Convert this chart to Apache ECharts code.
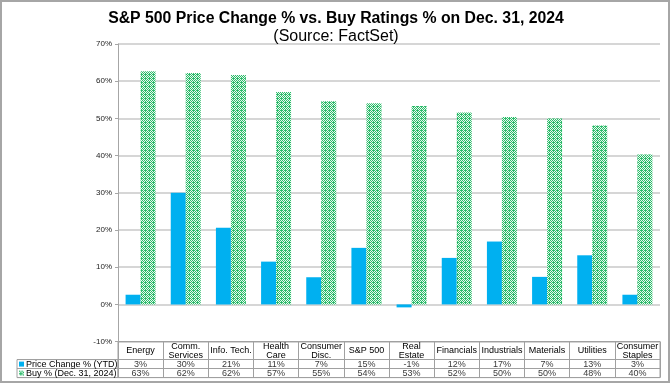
<!DOCTYPE html>
<html><head><meta charset="utf-8">
<script src="https://cdn.jsdelivr.net/npm/echarts@6/dist/echarts.min.js"></script>
<style>html,body{margin:0;padding:0;background:#fff}#c{width:672px;height:384px}</style>
</head><body><div id="c"></div>
<script>
// ---- data ----
const categories = ['Energy','Comm.\nServices','Info. Tech.','Health\nCare','Consumer\nDisc.','S&P 500','Real\nEstate','Financials','Industrials','Materials','Utilities','Consumer\nStaples'];
const priceChange = [2.6, 30.0, 20.6, 11.5, 7.3, 15.2, -0.8, 12.5, 16.9, 7.4, 13.2, 2.6];
const buyPct = [62.7, 62.2, 61.7, 57.1, 54.6, 54.1, 53.3, 51.6, 50.4, 50.0, 48.1, 40.3];
const priceLabels = ['3%','30%','21%','11%','7%','15%','-1%','12%','17%','7%','13%','3%'];
const buyLabels = ['63%','62%','62%','57%','55%','54%','53%','52%','50%','50%','48%','40%'];
const seriesNames = ['Price Change % (YTD)', 'Buy % (Dec. 31, 2024)'];
const tableRows = ['h1','h2','price','buy'];
const titleText = 'S&P 500 Price Change % vs. Buy Ratings % on Dec. 31, 2024';
const subText = '(Source: FactSet)';

// ---- hatch pattern ----
function makeHatch(){
  const c = document.createElement('canvas');
  c.width = 4; c.height = 4;
  const ctx = c.getContext('2d');
  ctx.fillStyle = '#e8f8ee'; ctx.fillRect(0,0,4,4);
  ctx.fillStyle = '#2bbb6a';
  for (let x=0;x<4;x++) for (let y=0;y<4;y++) {
    if ((x + y) % 2 === 0 || (x === 1 && y === 2)) ctx.fillRect(x, y, 1, 1);
  }
  return c;
}
const hatch = makeHatch();
const BLUE = '#00b0f0';
const FONT = 'Liberation Sans';
const GRID = '#c8c8c8';
const TBL = '#a0a0a0';

const chart = echarts.init(document.getElementById('c'), null, {renderer:'canvas'});

const textPoints = [];
for (let i=0;i<categories.length;i++){
  textPoints.push({value:[i, 2], label:{formatter: priceLabels[i]}});
  textPoints.push({value:[i, 3], label:{formatter: buyLabels[i]}});
}

chart.setOption({
  animation: false,
  backgroundColor: '#fff',
  textStyle: {fontFamily: FONT},
  title: {
    text: titleText, subtext: subText, left: 'center', top: 6, itemGap: 2,
    textStyle: {fontSize: 15.8, fontWeight: 'bold', color: '#000', fontFamily: FONT},
    subtextStyle: {fontSize: 16, color: '#000', fontFamily: FONT}
  },
  graphic: [{
    type: 'rect', silent: true, z: 100,
    shape: {x: 1, y: 1, width: 668, height: 381},
    style: {fill: 'none', stroke: '#a6a6a6', lineWidth: 2}
  }],
  grid: [
    {left: 118, right: 12, top: 44, height: 297.6},
    {left: 118, right: 12, top: 341.6, height: 36, show: true, borderColor: TBL, borderWidth: 1, backgroundColor: 'transparent'},
    {left: 17, width: 101, top: 359.6, height: 18, show: true, borderColor: TBL, borderWidth: 1, backgroundColor: 'transparent'}
  ],
  xAxis: [
    {type: 'category', gridIndex: 0, data: categories,
     axisLine: {show: false, onZero: false}, axisTick: {show: false},
     axisLabel: {interval: 0, fontSize: 9, lineHeight: 9, color: '#000', verticalAlign: 'middle', margin: 9, fontFamily: FONT}},
    {type: 'category', gridIndex: 1, data: categories,
     axisLine: {show: false}, axisTick: {show: false}, axisLabel: {show: false},
     splitLine: {show: true, interval: 0, lineStyle: {color: TBL, width: 1}}},
    {type: 'value', gridIndex: 2, show: false, min: 0, max: 1}
  ],
  yAxis: [
    {type: 'value', gridIndex: 0, min: -10, max: 70, interval: 10,
     axisLine: {show: true, lineStyle: {color: '#a6a6a6'}},
     axisTick: {show: true, length: 3, lineStyle: {color: '#a6a6a6'}},
     axisLabel: {formatter: '{value}%', fontSize: 8, color: '#222', margin: 6, fontFamily: FONT},
     splitLine: {show: true, lineStyle: {color: GRID, width: 1.5}}},
    {type: 'category', gridIndex: 1, data: tableRows, inverse: true,
     axisLine: {show: false}, axisTick: {show: false}, axisLabel: {show: false},
     splitLine: {show: true, interval: function(i){ return i !== 1; }, lineStyle: {color: TBL, width: 1}}},
    {type: 'category', gridIndex: 2, data: ['price','buy'], inverse: true,
     axisLine: {show: false}, axisTick: {show: false},
     splitLine: {show: true, interval: 0, lineStyle: {color: TBL, width: 1}},
     axisLabel: {inside: true, interval: 0, margin: 2, fontSize: 9, color: '#000', fontFamily: FONT,
       formatter: function(v){ return v === 'price' ? '{a|}{t|' + seriesNames[0] + '}' : '{b|}{t|' + seriesNames[1] + '}'; },
       rich: {
         a: {width: 5, height: 5, backgroundColor: BLUE},
         b: {width: 5, height: 5, backgroundColor: {image: hatch}},
         t: {fontSize: 9, color: '#000', padding: [0,0,0,2], fontFamily: FONT}
       }}}
  ],
  series: [
    {name: seriesNames[0], type: 'bar', xAxisIndex: 0, yAxisIndex: 0, data: priceChange,
     barWidth: 15, barGap: '0%', itemStyle: {color: BLUE}},
    {name: seriesNames[1], type: 'bar', xAxisIndex: 0, yAxisIndex: 0, data: buyPct,
     barWidth: 15, barGap: '0%', itemStyle: {color: {image: hatch, repeat: 'repeat'}}},
    {type: 'scatter', xAxisIndex: 1, yAxisIndex: 1, data: textPoints, symbolSize: 1,
     itemStyle: {color: 'rgba(0,0,0,0)'},
     label: {show: true, position: 'inside', fontSize: 9, color: '#000', fontFamily: FONT}}
  ]
});
</script></body></html>
